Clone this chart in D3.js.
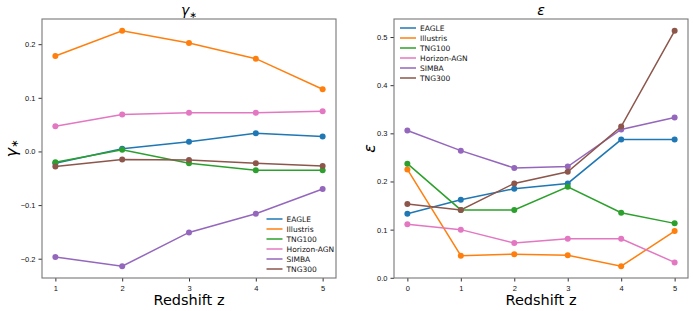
<!DOCTYPE html>
<html>
<head>
<meta charset="utf-8">
<script src="https://cdn.jsdelivr.net/npm/d3@7"></script>
<style>
  body { margin: 0; background: #fff; }
  svg { font-family: "DejaVu Sans", sans-serif; }
</style>
</head>
<body>
<div id="chart"></div>
<script>
const seriesNames = ["EAGLE", "Illustris", "TNG100", "Horizon-AGN", "SIMBA", "TNG300"];
const colors = ["#1f77b4", "#ff7f0e", "#2ca02c", "#e377c2", "#9467bd", "#8c564b"];

// left panel: gamma_* vs redshift 1..5
const zLeft = [1, 2, 3, 4, 5];
const gammaEAGLE = [-0.022, 0.005, 0.018, 0.034, 0.028];
const gammaIllustris = [0.178, 0.225, 0.202, 0.173, 0.116];
const gammaTNG100 = [-0.020, 0.003, -0.022, -0.035, -0.035];
const gammaHorizon = [0.047, 0.069, 0.072, 0.072, 0.075];
const gammaSIMBA = [-0.197, -0.214, -0.151, -0.116, -0.070];
const gammaTNG300 = [-0.028, -0.015, -0.016, -0.022, -0.027];
const gammaTicks = [-0.2, -0.1, 0.0, 0.1, 0.2];

// right panel: epsilon vs redshift 0..5
const zRight = [0, 1, 2, 3, 4, 5];
const epsEAGLE = [0.133, 0.162, 0.185, 0.196, 0.287, 0.287];
const epsIllustris = [0.225, 0.046, 0.049, 0.047, 0.024, 0.097];
const epsTNG100 = [0.237, 0.141, 0.141, 0.189, 0.135, 0.113];
const epsHorizon = [0.111, 0.100, 0.072, 0.081, 0.081, 0.032];
const epsSIMBA = [0.306, 0.264, 0.228, 0.231, 0.308, 0.333];
const epsTNG300 = [0.153, 0.141, 0.196, 0.220, 0.314, 0.513];
const epsTicks = [0.0, 0.1, 0.2, 0.3, 0.4, 0.5];

const width = 693, height = 311;
const svg = d3.select("#chart").append("svg")
    .attr("width", width)
    .attr("height", height);

const fmt = v => d3.format(".1f")(v).replace("-", "\u2212");

// matplotlib-like auto limits with 5% margins
const padded = (vals) => {
    const [lo, hi] = d3.extent(vals);
    const m = (hi - lo) * 0.05;
    return [lo - m, hi + m];
};

const drawPanel = (opts) => {
    const {box, xs, series, yTicks, title, ylabel, legendPos} = opts;
    const g = svg.append("g");

    const x = d3.scaleLinear().domain(padded(xs)).range([box.left, box.right]);
    const y = d3.scaleLinear().domain(padded(series.flat())).range([box.bottom, box.top]);

    series.forEach((vals, i) => {
        const pts = xs.map((xv, j) => ({x: xv, y: vals[j]}));
        g.append("path")
            .datum(pts)
            .attr("fill", "none")
            .attr("stroke", colors[i])
            .attr("stroke-width", 1.5)
            .attr("d", d3.line().x(d => x(d.x)).y(d => y(d.y)));
        g.selectAll(null)
            .data(pts)
            .enter().append("circle")
            .attr("cx", d => x(d.x))
            .attr("cy", d => y(d.y))
            .attr("r", 3)
            .attr("fill", colors[i]);
    });

    // axes
    g.append("g")
        .attr("transform", `translate(0,${box.bottom})`)
        .call(d3.axisBottom(x).tickValues(xs).tickFormat(d3.format("d")).tickSize(3.5).tickSizeOuter(0))
        .call(a => a.select(".domain").remove())
        .call(a => a.selectAll("line").attr("stroke", "#333"))
        .selectAll("text").attr("fill", "#111").style("font-size", "7.5px").attr("dy", "0.9em");

    g.append("g")
        .attr("transform", `translate(${box.left},0)`)
        .call(d3.axisLeft(y).tickValues(yTicks).tickFormat(fmt).tickSize(3.5).tickSizeOuter(0))
        .call(a => a.select(".domain").remove())
        .call(a => a.selectAll("line").attr("stroke", "#333"))
        .selectAll("text").attr("fill", "#111").style("font-size", "7.5px");

    g.append("rect")
        .attr("x", box.left).attr("y", box.top)
        .attr("width", box.right - box.left).attr("height", box.bottom - box.top)
        .attr("fill", "none").attr("stroke", "#777").attr("stroke-width", 1.1);

    const cx = (box.left + box.right) / 2;
    g.append("text")
        .attr("x", cx).attr("y", 15)
        .attr("text-anchor", "middle")
        .style("font-size", "14px").style("font-style", "italic")
        .html(title);

    g.append("text")
        .attr("x", cx).attr("y", 305)
        .attr("text-anchor", "middle")
        .style("font-size", "14.5px")
        .text("Redshift z");

    g.append("text")
        .attr("transform", `translate(${ylabel.x},${(box.top + box.bottom) / 2}) rotate(-90)`)
        .attr("text-anchor", "middle")
        .style("font-size", "16px").style("font-style", "italic")
        .html(ylabel.text);

    const leg = g.append("g").attr("transform", `translate(${legendPos.x},${legendPos.y})`);
    seriesNames.forEach((name, i) => {
        const row = leg.append("g").attr("transform", `translate(0,${i * 10})`);
        row.append("line").attr("x1", 0).attr("x2", 16).attr("y1", 0).attr("y2", 0)
            .attr("stroke", colors[i]).attr("stroke-width", 1.5);
        row.append("text").attr("x", 20).attr("y", 0).attr("dy", "0.35em")
            .style("font-size", "7.5px").attr("fill", "#111").text(name);
    });
};

drawPanel({
    box: {left: 42, right: 336, top: 19, bottom: 278},
    xs: zLeft,
    series: [gammaEAGLE, gammaIllustris, gammaTNG100, gammaHorizon, gammaSIMBA, gammaTNG300],
    yTicks: gammaTicks,
    title: "\u03b3<tspan font-size=\"9px\" dy=\"3\">\u2217</tspan>",
    ylabel: {x: 17, text: "\u03b3<tspan font-size=\"10px\" dy=\"1\">\u2217</tspan>"},
    legendPos: {x: 266.5, y: 219}
});

drawPanel({
    box: {left: 394, right: 688, top: 19, bottom: 278},
    xs: zRight,
    series: [epsEAGLE, epsIllustris, epsTNG100, epsHorizon, epsSIMBA, epsTNG300],
    yTicks: epsTicks,
    title: "\u03b5",
    ylabel: {x: 375, text: "\u03b5"},
    legendPos: {x: 400, y: 28}
});
</script>
</body>
</html>
